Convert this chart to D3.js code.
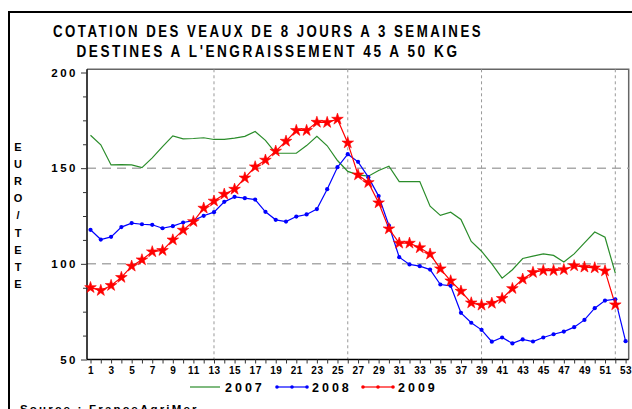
<!DOCTYPE html>
<html><head><meta charset="utf-8">
<script src="https://cdn.jsdelivr.net/npm/d3@7"></script>
<style>body{margin:0;background:#fff}svg{display:block}text{font-family:"Liberation Sans",Arial,sans-serif;font-weight:bold;fill:#000}</style>
</head><body>
<script>
const weeks = d3.range(1, 54);
const titleLines = ["COTATION DES VEAUX DE 8 JOURS A 3 SEMAINES", "DESTINES A L'ENGRAISSEMENT 45 A 50 KG"];
const yLabel = "EURO/TETE";
const source = "Source : FranceAgriMer";
const yTicks = [50, 100, 150, 200];
const xLabelTicks = d3.range(1, 54, 2);
const gridWeeks = [13, 26, 39, 52];
const gridValues = [100, 150];
const v2007 = [167.2,162.2,151.7,151.9,151.7,150.3,155.4,161.3,166.9,165.3,165.5,165.9,165.0,165.0,165.7,166.6,169.2,164.5,157.8,157.8,157.8,161.8,166.6,161.7,154.0,148.3,146.5,145.8,148.8,151.0,143.0,143.0,143.0,130.1,125.3,127.0,123.2,111.7,106.6,100.0,92.5,96.9,102.8,104.0,105.2,104.4,101.0,105.2,111.0,116.6,113.9,95.1];
const v2008 = [117.8,112.7,114.1,119.2,121.3,120.7,120.4,118.6,119.7,121.6,122.6,125.1,127.0,132.4,135.0,134.3,133.6,127.2,123.0,122.1,124.7,125.8,128.6,139.0,150.5,157.3,153.3,145.3,135.4,120.0,103.5,99.7,98.8,97.0,89.2,88.5,74.4,69.2,65.5,59.3,61.5,58.4,60.5,59.4,61.5,63.2,64.6,66.9,70.7,76.8,80.8,81.5,59.6];
const v2009 = [87.6,86.1,88.7,92.9,98.8,102.1,106.3,107.0,112.5,117.6,122.1,129.1,132.8,136.4,139.0,144.9,150.7,154.2,158.9,164.1,169.7,169.7,174.0,173.9,175.6,163.2,146.5,142.5,131.9,118.3,110.8,110.8,108.4,105.1,97.4,91.1,85.7,79.6,78.4,79.4,81.9,87.1,92.0,95.5,96.5,96.5,97.0,99.0,98.3,97.9,96.3,78.6];
const seriesNames = ["2007", "2008", "2009"];
const colors = ["#2a8c2a", "#0000ff", "#ff0000"];

const W = 632, H = 409;
const svg = d3.select("body").append("svg").attr("width", W).attr("height", H);
const x = d3.scaleLinear().domain([1, 53]).range([90.5, 625.6]);
const y = d3.scaleLinear().domain([50, 200]).range([359.5, 72.5]);
const pL = 87, pR = 628.7, pT = 69.3, pB = 359.5;

// outer frame
svg.append("rect").attr("x", 9).attr("y", 12).attr("width", 640).attr("height", 420)
  .attr("fill", "none").attr("stroke", "#000").attr("stroke-width", 2);

// title
const titleLens = [430, 383];
titleLines.forEach((t, i) => {
  svg.append("text").attr("x", 268).attr("y", 36.5 + i * 20.5).attr("text-anchor", "middle")
    .attr("font-size", 16).attr("letter-spacing", 3)
    .attr("textLength", titleLens[i]).attr("lengthAdjust", "spacingAndGlyphs").text(t);
});

// plot border
svg.append("path").attr("d", `M${pL},${pT}H${pR}V${pB}`).attr("fill", "none")
  .attr("stroke", "#666").attr("stroke-width", 1.5);

// grid
svg.selectAll(".hg").data(gridValues).enter().append("line")
  .attr("x1", pL).attr("x2", pR).attr("y1", d => y(d)).attr("y2", d => y(d))
  .attr("stroke", "#aaa").attr("stroke-width", 1.5).attr("stroke-dasharray", "9,6");
svg.selectAll(".vg").data(gridWeeks).enter().append("line")
  .attr("x1", d => x(d)).attr("x2", d => x(d)).attr("y1", pT).attr("y2", pB)
  .attr("stroke", "#999").attr("stroke-width", 1).attr("stroke-dasharray", "3,3");

// y axis
const yAxis = d3.axisLeft(y).tickValues(d3.range(50, 201, 12.5)).tickSize(4).tickFormat(d => yTicks.includes(d) ? d : "");
const gy = svg.append("g").attr("transform", `translate(${pL},0)`).call(yAxis);
gy.select(".domain").attr("d", `M0,${pT}V${pB}`).attr("stroke", "#000").attr("stroke-width", 1.5);
gy.selectAll(".tick line").attr("x2", d => yTicks.includes(d) ? -6 : -4).attr("stroke", "#333");
gy.selectAll(".tick text").attr("x", -9).attr("font-size", 11.5).attr("letter-spacing", 2.5)
  .attr("font-family", "Liberation Sans,Arial,sans-serif").attr("font-weight", "bold").attr("fill", "#000");

// x axis
const xAxis = d3.axisBottom(x).tickValues(weeks).tickSize(4).tickFormat(d => xLabelTicks.includes(d) ? d : "");
const gx = svg.append("g").attr("transform", `translate(0,${pB})`).call(xAxis);
gx.select(".domain").attr("d", `M${pL},0H${pR}`).attr("stroke", "#000").attr("stroke-width", 1.5);
gx.selectAll(".tick line").attr("stroke", "#333");
gx.selectAll(".tick text").attr("y", 7).attr("font-size", 10).attr("letter-spacing", 0.5)
  .attr("font-family", "Liberation Sans,Arial,sans-serif").attr("font-weight", "bold").attr("fill", "#000");

// y label (stacked letters)
yLabel.split("").forEach((c, i) => {
  svg.append("text").attr("x", 18).attr("y", 151 + i * 17.1).attr("text-anchor", "middle")
    .attr("font-size", 11).text(c);
});

// lines
const line = d3.line().x((d, i) => x(i + 1)).y(d => y(d));
const data = [v2007, v2008, v2009];
data.forEach((vals, k) => {
  svg.append("path").datum(vals).attr("d", line).attr("fill", "none")
    .attr("stroke", colors[k]).attr("stroke-width", 1.2);
});
// markers 2008
svg.selectAll(".m08").data(v2008).enter().append("circle")
  .attr("cx", (d, i) => x(i + 1)).attr("cy", d => y(d)).attr("r", 2.1).attr("fill", colors[1]);
// markers 2009 stars
const star = d3.symbol().type(d3.symbolStar).size(42);
svg.selectAll(".m09").data(v2009).enter().append("path")
  .attr("d", star).attr("transform", (d, i) => `translate(${x(i + 1)},${y(d)})`)
  .attr("fill", colors[2]).attr("stroke", colors[2]).attr("stroke-width", 0.6);

// legend
const legX = [190, 277, 363];
const legY = 387;
seriesNames.forEach((s, k) => {
  svg.append("line").attr("x1", legX[k]).attr("x2", legX[k] + 30).attr("y1", legY).attr("y2", legY)
    .attr("stroke", colors[k]).attr("stroke-opacity", 0.6).attr("stroke-width", 2);
  if (k > 0) {
    [0, 15, 30].forEach(o => svg.append("circle").attr("cx", legX[k] + o).attr("cy", legY).attr("r", 1.8).attr("fill", colors[k]));
  }
  svg.append("text").attr("x", legX[k] + 35).attr("y", legY + 4.5).attr("font-size", 12.5)
    .attr("letter-spacing", 3).text(s);
});

// source
svg.append("text").attr("x", 20).attr("y", 413).attr("font-size", 11.5).attr("letter-spacing", 2.2).text(source);
</script>
</body></html>
